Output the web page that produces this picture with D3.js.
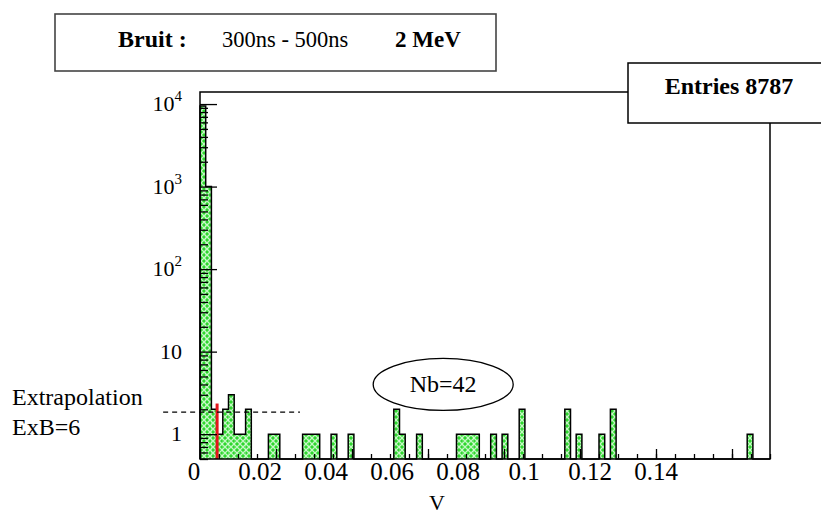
<!DOCTYPE html>
<html><head><meta charset="utf-8">
<script src="https://cdn.jsdelivr.net/npm/d3@7"></script>
<style>body{margin:0;background:#fff}svg{display:block}</style>
</head><body><svg id="c" width="821" height="521"></svg>
<script>
// ---- data ----
const binWidth = 0.0015;
const counts = [
 9500,1000,2,1,2,3,1,1,2,0,
 0,0,1,1,0,0,0,0,1,1,
 1,0,0,1,0,0,1,0,0,0,
 0,0,0,0,2,1,0,0,1,0,
 0,0,0,0,0,1,1,1,1,0,
 0,1,0,1,0,0,2,0,0,0,
 0,0,0,0,2,0,1,0,0,0,
 1,0,2,0,0,0,0,0,0,0,
 0,0,0,0,0,0,0,0,0,0,
 0,0,0,0,0,0,1,0,0,0];
const xTickLabels = ["0","0.02","0.04","0.06","0.08","0.1","0.12","0.14"];
const xTickLabelValues = [0,0.02,0.04,0.06,0.08,0.1,0.12,0.14];
const yTickValues = [1,10,100,1000,10000];
const yTickBase = ["1","10","10","10","10"];
const yTickExp = ["","","2","3","4"];
const redLineV = 0.0045, redLineTop = 2.35;
const extrapLevel = 1.85, extrapFromV = -0.0097, extrapToV = 0.0263;
const nbPosV = 0.064, nbPosCount = 4;
const titleParts = [{t:"Bruit :",b:true},{t:"300ns - 500ns",b:false},{t:"2 MeV",b:true}];
const entriesText = "Entries 8787";

// ---- layout ----
const FONT = '"Liberation Serif"';
const svg = d3.select("#c");
const x = d3.scaleLinear().domain([0,0.15]).range([200,770]);
const y = d3.scaleLog().domain([0.5,14000]).range([459,92]);
const xLab = d3.scaleLinear().domain([0,0.14]).range([194,656]);
const yb = y.range()[0];
function T(sel){return sel.style("font-family",FONT).attr("fill","#000");}

const defs = svg.append("defs");
const pat = defs.append("pattern").attr("id","hatch").attr("patternUnits","userSpaceOnUse").attr("width",6).attr("height",6);
pat.append("rect").attr("width",6).attr("height",6).attr("fill","#2ed82e");
pat.append("path").attr("d","M0,0L6,6M6,0L0,6").attr("stroke","#c4f7c4").attr("stroke-width",1.3);

const bins = counts.map((c,i)=>({x0:i*binWidth,x1:(i+1)*binWidth,c}));
svg.append("g").selectAll("rect").data(bins.filter(d=>d.c>0)).join("rect")
  .attr("x",d=>x(d.x0)).attr("width",d=>x(d.x1)-x(d.x0))
  .attr("y",d=>y(d.c)).attr("height",d=>yb-y(d.c)).attr("fill","url(#hatch)");

const pts=[];
bins.forEach(d=>{const yy=d.c>0?y(d.c):yb;pts.push([x(d.x0),yy],[x(d.x1),yy]);});
pts.unshift([x(0),yb]); pts.push([x(bins[bins.length-1].x1),yb]);
svg.append("path").attr("d",d3.line()(pts)).attr("fill","none").attr("stroke","#000").attr("stroke-width",1.5);

// red line
svg.append("rect").attr("x",x(redLineV)-1.5).attr("width",3).attr("y",y(redLineTop)).attr("height",yb-y(redLineTop)).attr("fill","#e3161c");

// frame
svg.append("rect").attr("x",200).attr("y",92).attr("width",570).attr("height",367).attr("fill","none").attr("stroke","#000").attr("stroke-width",1.5);

// axes
const gx1 = svg.append("g").attr("transform",`translate(0,${yb})`).call(d3.axisTop(x).tickValues(d3.range(0,0.1501,0.02)).tickSize(10).tickFormat(""));
const gx2 = svg.append("g").attr("transform",`translate(0,${yb})`).call(d3.axisTop(x).tickValues(d3.range(0,0.1501,0.005)).tickSize(5).tickFormat(""));
const minorY=[];
[0.1,1,10,100,1000].forEach(dec=>{for(let k=2;k<10;k++){const v=dec*k;if(v>=0.5&&v<=14000)minorY.push(v);}});
const gy1 = svg.append("g").attr("transform","translate(200,0)").call(d3.axisRight(y).tickValues(yTickValues).tickSize(17).tickFormat(""));
const gy2 = svg.append("g").attr("transform","translate(200,0)").call(d3.axisRight(y).tickValues(minorY).tickSize(8).tickFormat(""));
[gx1,gx2,gy1,gy2].forEach(g=>{g.select(".domain").remove();g.selectAll("line").attr("stroke","#000").attr("stroke-width",1.3);});

// x labels
T(svg.append("g").selectAll("text").data(xTickLabelValues).join("text"))
  .attr("x",d=>xLab(d)).attr("y",480).attr("text-anchor","middle").attr("font-size",25)
  .text((d,i)=>xTickLabels[i]);
T(svg.append("text")).attr("x",437).attr("y",510).attr("text-anchor","middle").attr("font-size",22).text("V");

// y labels
const yl = T(svg.append("g").selectAll("text").data(yTickValues).join("text"))
  .attr("x",182).attr("y",d=>y(d)+7).attr("text-anchor","end").attr("font-size",22);
yl.append("tspan").text((d,i)=>yTickBase[i]);
yl.append("tspan").attr("font-size",15).attr("dy",-10).text((d,i)=>yTickExp[i]);

// extrapolation
svg.append("line").attr("x1",x(extrapFromV)).attr("x2",x(extrapToV)).attr("y1",y(extrapLevel)).attr("y2",y(extrapLevel))
  .attr("stroke","#000").attr("stroke-width",1.2).attr("stroke-dasharray","5,4");
T(svg.append("text")).attr("x",12).attr("y",405).attr("font-size",24).text("Extrapolation");
T(svg.append("text")).attr("x",12).attr("y",435).attr("font-size",24).text("ExB=6");

// Nb ellipse
svg.append("ellipse").attr("cx",x(nbPosV)).attr("cy",y(nbPosCount)).attr("rx",70).attr("ry",26).attr("fill","#fff").attr("stroke","#000").attr("stroke-width",1.3);
T(svg.append("text")).attr("x",x(nbPosV)).attr("y",y(nbPosCount)+8).attr("text-anchor","middle").attr("font-size",24).text("Nb=42");

// title box
svg.append("rect").attr("x",55).attr("y",14).attr("width",441).attr("height",57).attr("fill","#fff").attr("stroke","#444").attr("stroke-width",1.6);
const tx=[118,222,395];
const tsz=[24,22.5,23];
titleParts.forEach((p,i)=>T(svg.append("text")).attr("x",tx[i]).attr("y",47).attr("font-size",tsz[i]).attr("font-weight",p.b?"bold":"normal").text(p.t));

// entries box
svg.append("rect").attr("x",628).attr("y",63).attr("width",200).attr("height",60).attr("fill","#fff").attr("stroke","#000").attr("stroke-width",1.5);
T(svg.append("text")).attr("x",729).attr("y",94).attr("text-anchor","middle").attr("font-size",24).attr("font-weight","bold").text(entriesText);
</script></body></html>
